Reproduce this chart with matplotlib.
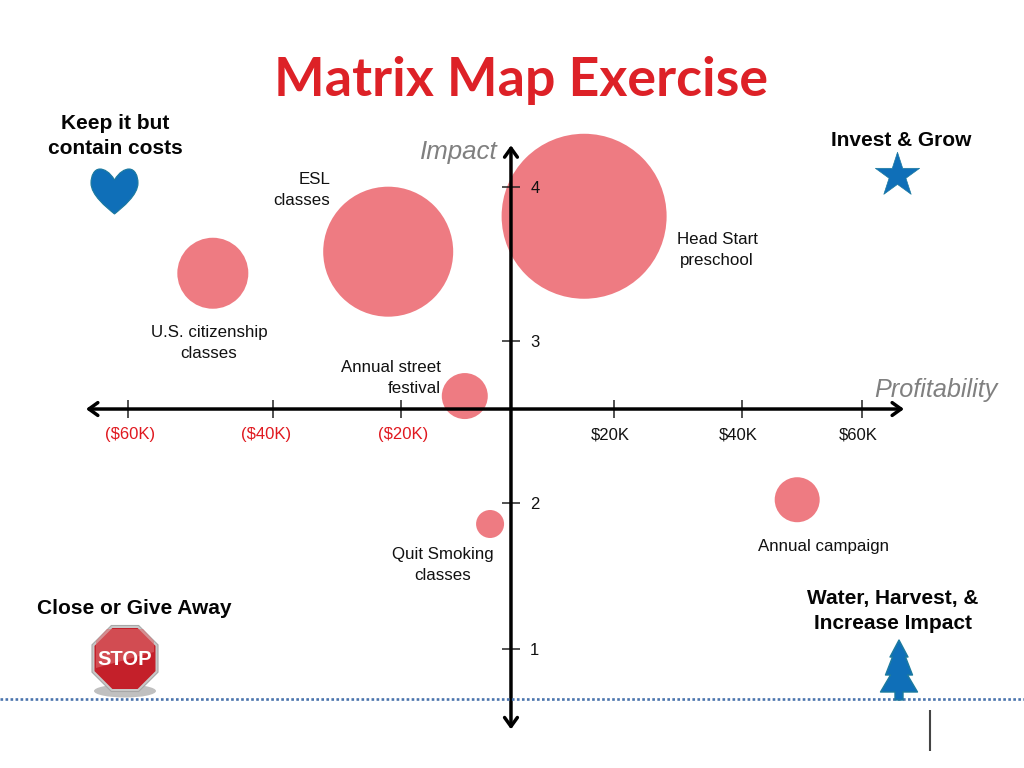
import numpy as np
import matplotlib
matplotlib.use("Agg")
import matplotlib.pyplot as plt
from matplotlib.patches import Polygon, Ellipse, PathPatch
from matplotlib.path import Path
from matplotlib.ticker import NullLocator
from matplotlib.transforms import ScaledTranslation

# ---- data ----
programs = ["Head Start", "ESL", "U.S. citizenship", "Annual street festival", "Quit Smoking", "Annual campaign"]
profit_k = [14.2, -22.0, -48.3, -8.4, -3.8, 49.2]
impact = [3.81, 3.58, 3.44, 2.66, 1.856, 2.02]
bubble_size = [165, 130, 71, 46, 28, 45]
x_ticks = [-60, -40, -20, 20, 40, 60]
x_labels = ["($60K)", "($40K)", "($20K)", "$20K", "$40K", "$60K"]
x_colors = ["#e0181f", "#e0181f", "#e0181f", "#111111", "#111111", "#111111"]
x_nudges = [2, -7, 2, -4, -4, -4]
y_ticks = [1, 2, 3, 4]
y_labels = ["1", "2", "3", "4"]
axis_knots_k = [-86.5, -60, -40, -20, 0, 20, 40, 60, 87.0]
axis_knots_frac = [0.0, 0.125, 0.2666, 0.3916, 0.499, 0.5996, 0.7246, 0.8418, 1.0]
axis_knots_imp = [0.23, 1, 2, 3, 4, 5.21]
axis_knots_yfrac = [0.0, 0.1549, 0.3451, 0.556, 0.7565, 1.0]
x_axis_at = 2.58
x_axis_ends = (-68.7, 67.0)
y_axis_ends = (0.48, 4.27)

RED = "#dd2127"
BLUE = "#0f6fb8"
SANS = ["Liberation Sans", "DejaVu Sans"]
plt.rcParams["font.family"] = SANS

fig = plt.figure(figsize=(10.24, 7.68), dpi=100, facecolor="white")
PX = 72 / fig.dpi

ax = fig.add_axes([0, 0, 1, 1], facecolor="none")
ax.set_xscale("function", functions=(
    lambda v: np.interp(v, axis_knots_k, axis_knots_frac),
    lambda f: np.interp(f, axis_knots_frac, axis_knots_k)))
ax.set_yscale("function", functions=(
    lambda v: np.interp(v, axis_knots_imp, axis_knots_yfrac),
    lambda f: np.interp(f, axis_knots_yfrac, axis_knots_imp)))
ax.set_xlim(axis_knots_k[0], axis_knots_k[-1])
ax.set_ylim(axis_knots_imp[0], axis_knots_imp[-1])

ax.scatter(profit_k, impact, s=(np.array(bubble_size) * PX) ** 2,
           color="#ee7b82", linewidths=0, zorder=1)

for side in ["top", "right", "left", "bottom"]:
    ax.spines[side].set_visible(False)
ax.spines["left"].set_position(("data", 0))
ax.spines["bottom"].set_position(("data", x_axis_at))

ax.set_xticks(x_ticks, x_labels)
ax.set_yticks(y_ticks, y_labels)
ax.xaxis.set_minor_locator(NullLocator())
ax.yaxis.set_minor_locator(NullLocator())
ax.tick_params(axis="x", direction="inout", length=18 * PX, width=1.1, color="#222222", labelsize=12, pad=6.5)
ax.tick_params(axis="y", direction="inout", length=18 * PX, width=1.1, color="#222222", labelsize=12, pad=-20.3)
for lab, col, nudge in zip(ax.get_xticklabels(), x_colors, x_nudges):
    lab.set_color(col)
    lab.set_transform(lab.get_transform() + ScaledTranslation(nudge / fig.dpi, 0, fig.dpi_scale_trans))
for lab in ax.get_yticklabels():
    lab.set_ha("left")
    lab.set_color("#111111")

arrow = dict(arrowstyle="<->,head_length=0.32,head_width=0.23", color="black", lw=2.5,
             mutation_scale=20, shrinkA=0, shrinkB=0)
ax.annotate("", xy=(x_axis_ends[0], x_axis_at), xytext=(x_axis_ends[1], x_axis_at), arrowprops=arrow, zorder=3)
ax.annotate("", xy=(0, y_axis_ends[1]), xytext=(0, y_axis_ends[0]), arrowprops=arrow, zorder=3)

# ---- pixel-coordinate overlay for slide furniture ----
ov = fig.add_axes([0, 0, 1, 1], facecolor="none")
ov.set_xlim(0, 1024)
ov.set_ylim(768, 0)
ov.axis("off")

ov.text(521, 96, "Matrix Map Exercise", color=RED, fontsize=38.6, fontweight="bold",
        family=["Lato", "DejaVu Sans"], ha="center", va="baseline")

for x, y, s in [(115, 136, "Keep it but\ncontain costs"), (901, 140, "Invest & Grow"),
                (134, 609, "Close or Give Away"), (893, 611, "Water, Harvest, &\nIncrease Impact")]:
    ov.text(x, y, s, fontsize=15, fontweight="bold", ha="center", va="center", color="#050505", linespacing=1.42)

ov.text(498, 152, "Impact", fontsize=18.6, style="italic", color="#808080", ha="right", va="center")
ov.text(998, 390, "Profitability", fontsize=18.2, style="italic", color="#808080", ha="right", va="center")

for x, y, s, ha in [(330, 190, "ESL\nclasses", "right"), (717, 250, "Head Start\npreschool", "center"),
                    (209, 343, "U.S. citizenship\nclasses", "center"), (441, 378, "Annual street\nfestival", "right"),
                    (443, 565, "Quit Smoking\nclasses", "center"), (823, 547, "Annual campaign", "center")]:
    ov.text(x, y, s, fontsize=12.2, ha=ha, va="center", color="#111111", linespacing=1.48)

# heart
heart = Path([(114.5, 180), (110, 172), (104, 169), (100, 169), (94, 169), (91, 176), (91, 183),
              (91, 195), (106, 207), (114.5, 214),
              (123, 207), (138, 195), (138, 183), (138, 176), (135, 169), (129, 169),
              (125, 169), (119, 172), (114.5, 180)],
             [Path.MOVETO] + [Path.CURVE4] * 18)
ov.add_patch(PathPatch(heart, fc=BLUE, ec="#1c7a9e", lw=0.8))

# star
ov.scatter([897], [175], marker="*", s=1120, color=BLUE, edgecolors="#1c7a9e", linewidths=0.5)

# tree
cx = 899
half = [(0, 640), (9, 657), (6.5, 657), (13.5, 675), (8.5, 675), (18.5, 692), (4, 692), (4, 700)]
pts = [(cx + dx, y) for dx, y in half] + [(cx - dx, y) for dx, y in reversed(half[1:])]
ov.add_patch(Polygon(pts, closed=True, fc=BLUE, ec="#1c7a9e", lw=1.0, joinstyle="round", zorder=3))

# stop sign
ov.add_patch(Ellipse((125, 691), 62, 13, fc="#b5b5b5", ec="none", alpha=0.85))
def octagon(r, cy=658.5):
    a = np.deg2rad(22.5 + 45 * np.arange(8))
    R = r / np.cos(np.deg2rad(22.5))
    return np.c_[125 + R * np.cos(a), cy + R * np.sin(a)]
ov.add_patch(Polygon(octagon(33), fc="#c9c9c9", ec="#a8a8a8", lw=0.8))
ov.add_patch(Polygon(octagon(30.5), fc="#c4202a", ec="none"))
ov.add_patch(Polygon([(107, 629), (143, 629), (154, 641), (154, 652), (96, 668), (96, 641)],
                     fc="#dd6a6e", ec="none", alpha=0.6))
ov.text(125, 659.5, "STOP", color="white", fontsize=14.5, fontweight="bold", ha="center", va="center")

# footer
ov.plot([0, 1024], [699, 699], color="#4a74ad", lw=1.9, linestyle=(0, (1, 0.9)), zorder=2)
ov.plot([930, 930], [710, 751], color="#444444", lw=1.5, solid_capstyle="butt")

fig.savefig("out.png", dpi=100)
